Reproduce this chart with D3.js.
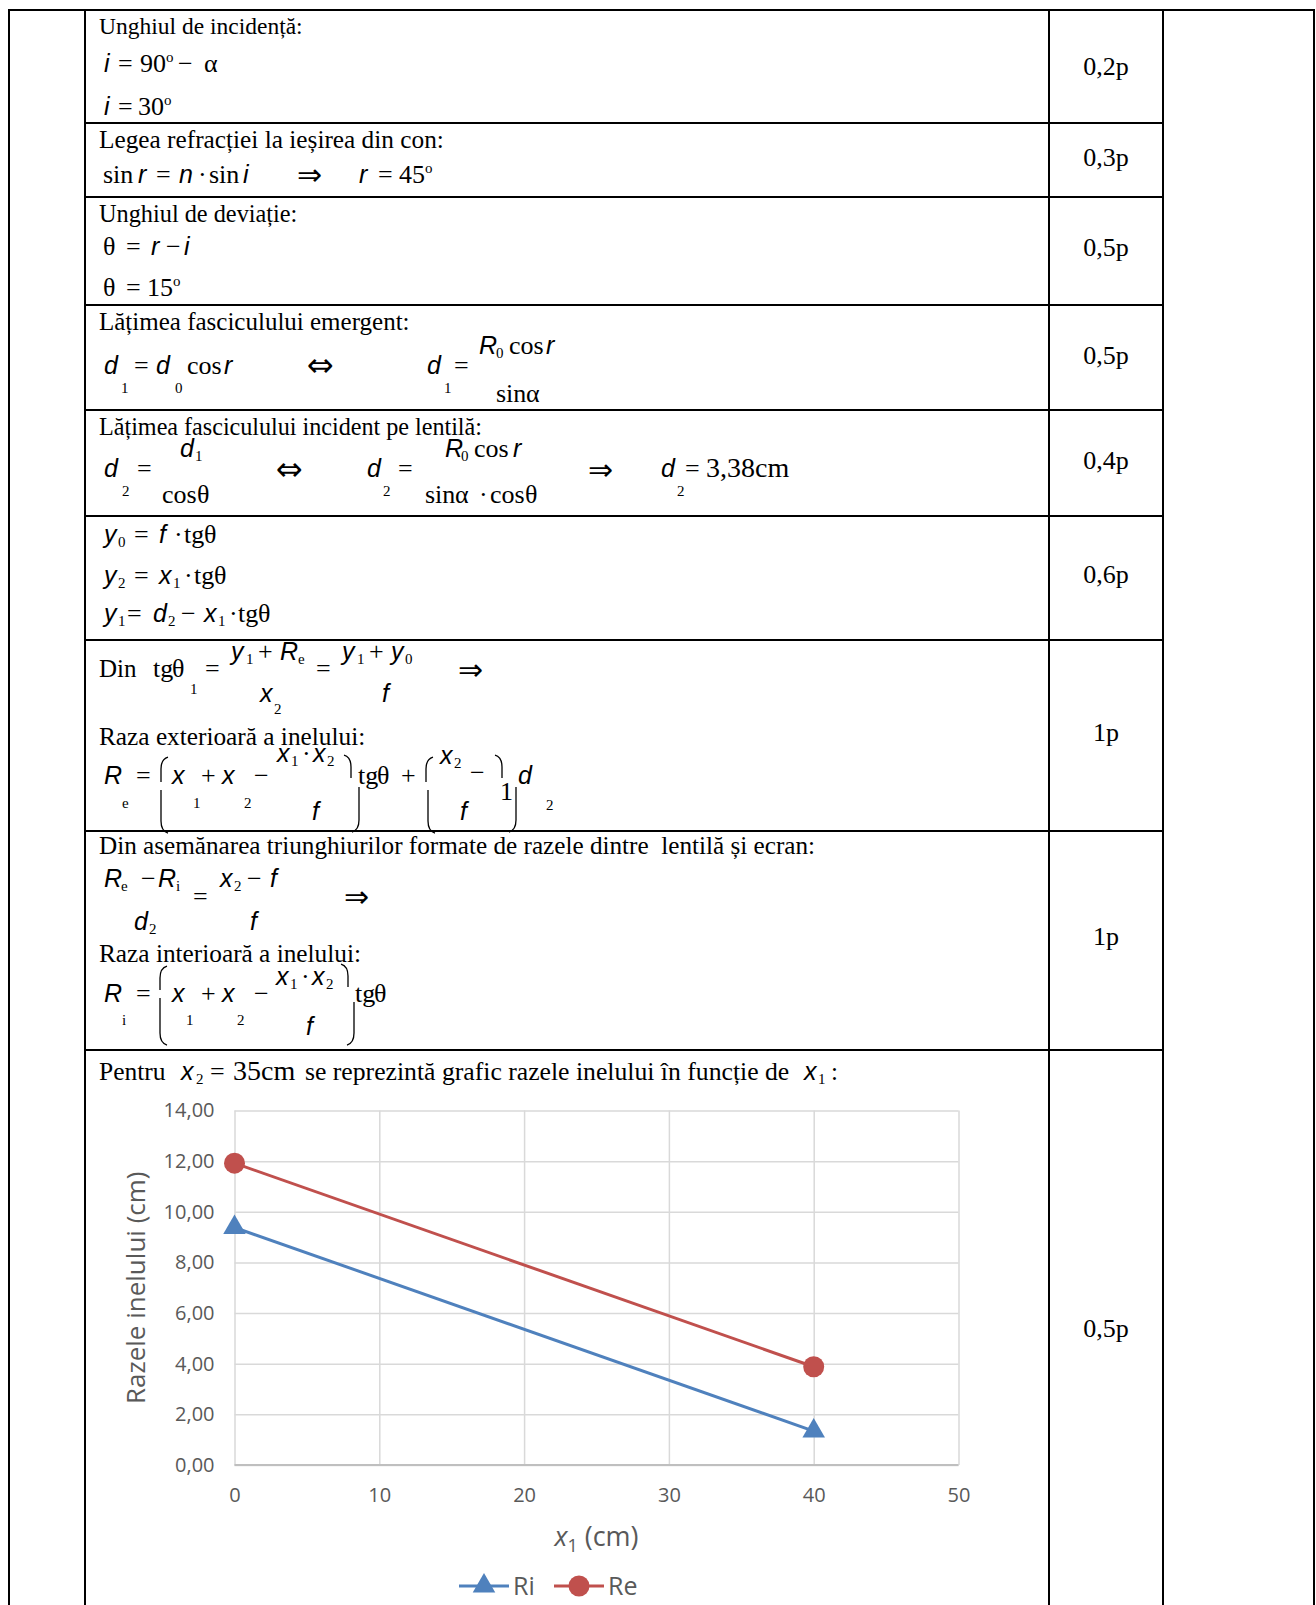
<!DOCTYPE html>
<html><head><meta charset="utf-8">
<script src="https://cdn.jsdelivr.net/npm/d3@7"></script>
<style>
body{margin:0;background:#fff;}
svg text{white-space:pre;}
.t{font-family:"Liberation Serif","Times New Roman",serif;font-size:25px;fill:#000}
.f{font-family:"Liberation Serif","Times New Roman",serif;font-size:26px;fill:#000}
.v{font-family:"Liberation Sans",Arial,sans-serif;font-style:italic;font-size:25px;fill:#000}
.s{font-family:"Liberation Serif","Times New Roman",serif;font-size:15px;fill:#000}
.g{font-family:"Liberation Serif","Times New Roman",serif;font-size:26px;fill:#000}
.a{font-family:"DejaVu Sans",sans-serif;font-size:30px;fill:#000}
.p{font-family:"Liberation Serif","Times New Roman",serif;font-size:26px;fill:#000}
.ax{font-family:"Open Sans",sans-serif;fill:#595959}
</style></head><body>
<svg id="c" width="1316" height="1605"></svg>
<script>
// ---- chart data ----
const xValues = [0, 40];
const riValues = [9.38, 1.34];
const reValues = [11.92, 3.88];
const xTicks = [0, 10, 20, 30, 40, 50];
const yTicks = [0, 2, 4, 6, 8, 10, 12, 14];
const seriesNames = ["Ri", "Re"];
const seriesColors = ["#4F81BD", "#C0504D"];
const pointLabels = ["0,2p", "0,3p", "0,5p", "0,5p", "0,4p", "0,6p", "1p", "1p", "0,5p"];

const svg = d3.select("#c");
svg.append("rect").attr("width",1316).attr("height",1605).attr("fill","#fff");

// ---- table grid ----
const colX = [9, 85, 1049, 1163, 1314];
const rowY = [123, 197, 305, 410, 516, 640, 831, 1050];
const grid = svg.append("g").attr("stroke","#000").attr("stroke-width",2);
grid.append("line").attr("x1",8).attr("x2",1315).attr("y1",10).attr("y2",10);
colX.forEach(x => grid.append("line").attr("x1",x).attr("x2",x).attr("y1",9).attr("y2",1605));
rowY.forEach(y => grid.append("line").attr("x1",85).attr("x2",1163).attr("y1",y).attr("y2",y));

// ---- points column ----
const pointBase = [75, 166, 256, 364, 469, 583, 741, 945, 1337];
svg.selectAll("text.pt").data(pointLabels).enter().append("text")
  .attr("class","p").attr("x",1106).attr("y",(d,i)=>pointBase[i])
  .attr("text-anchor","middle").text(d=>d);

// ---- helpers for formula text ----
function T(x,y,c,s,fs){ const t=svg.append("text").attr("class",c).attr("x",x).attr("y",y).text(s); if(fs) t.style("font-size",fs+"px"); return t; }
function deg(x,y,num){
  const t = svg.append("text").attr("class","f").attr("x",x).attr("y",y);
  t.append("tspan").text(num);
  t.append("tspan").attr("dy",-10).style("font-size","15px").text("o");
}
const pg = svg.append("g").attr("fill","none").attr("stroke","#000").attr("stroke-width",1.3);
function pTop(xs,y1,y2,dir){ pg.append("path").attr("d",`M${xs+7*dir},${y1} Q${xs},${y1+2} ${xs},${y1+12} L${xs},${y2}`); }
function pBot(xs,y1,y2,dir){ pg.append("path").attr("d",`M${xs},${y1} L${xs},${y2-12} Q${xs},${y2-2} ${xs+7*dir},${y2}`); }

// Row 1
T(99,34,"t","Unghiul de incidență:",23.5);
T(104,72,"v","i"); T(118,72,"f","="); deg(140,72,"90"); T(178,72,"f","−"); T(204,72,"g","α");
T(104,115,"v","i"); T(118,115,"f","="); deg(138,115,"30");
// Row 2
T(99,148,"t","Legea refracției la ieșirea din con:",25.3);
T(103,183,"f","sin"); T(138,183,"v","r"); T(156,183,"f","="); T(179,183,"v","n"); T(198,183,"f","·");
T(209,183,"f","sin"); T(243,183,"v","i"); T(297,185,"a","⇒"); T(359,183,"v","r"); T(378,183,"f","="); deg(399,183,"45");
// Row 3
T(99,222,"t","Unghiul de deviație:",24.3);
T(103,255,"g","θ"); T(126,255,"f","="); T(151,255,"v","r"); T(166,255,"f","−"); T(184,255,"v","i");
T(103,296,"g","θ"); T(126,296,"f","="); deg(147,296,"15");
// Row 4
T(99,330,"t","Lățimea fasciculului emergent:",25);
T(104,374,"v","d"); T(121,393,"s","1"); T(134,374,"f","="); T(156,374,"v","d"); T(175,393,"s","0");
T(187,374,"f","cos"); T(224,374,"v","r"); T(307,376,"a","⇔",32);
T(427,374,"v","d"); T(444,393,"s","1"); T(454,374,"f","=");
T(479,354,"v","R"); T(496,358,"s","0"); T(509,354,"f","cos"); T(546,354,"v","r");
T(496,402,"f","sin"); T(526,402,"g","α");
// Row 5
T(99,435,"t","Lățimea fasciculului incident pe lentilă:",24.2).attr("textLength",383);
T(104,477,"v","d"); T(122,496,"s","2"); T(137,477,"f","=");
T(180,457,"v","d"); T(195,461,"s","1"); T(162,503,"f","cos"); T(197,503,"g","θ");
T(276,480,"a","⇔",32);
T(367,477,"v","d"); T(383,496,"s","2"); T(398,477,"f","=");
T(445,457,"v","R"); T(461,461,"s","0"); T(474,457,"f","cos"); T(513,457,"v","r");
T(425,503,"f","sin"); T(455,503,"g","α"); T(479,503,"f","·"); T(490,503,"f","cos"); T(525,503,"g","θ");
T(588,480,"a","⇒");
T(661,477,"v","d"); T(677,496,"s","2"); T(685,477,"f","="); T(706,477,"f","3,38cm",28);
// Row 6
T(104,543,"v","y"); T(118,547,"s","0"); T(134,543,"f","="); T(159,543,"v","f"); T(174,543,"f","·"); T(184,543,"f","tg"); T(204,543,"g","θ");
T(104,584,"v","y"); T(118,588,"s","2"); T(134,584,"f","="); T(159,584,"v","x"); T(173,588,"s","1"); T(184,584,"f","·"); T(194,584,"f","tg"); T(214,584,"g","θ");
T(104,622,"v","y"); T(118,626,"s","1"); T(127,622,"f","="); T(153,622,"v","d"); T(168,626,"s","2"); T(181,622,"f","−");
T(204,622,"v","x"); T(218,626,"s","1"); T(229,622,"f","·"); T(238,622,"f","tg"); T(258,622,"g","θ");
// Row 7
T(99,677,"t","Din",25); T(153,677,"f","tg"); T(172,677,"g","θ"); T(190,694,"s","1"); T(205,677,"f","=");
T(231,660,"v","y"); T(246,664,"s","1"); T(258,660,"f","+"); T(280,660,"v","R"); T(298,664,"s","e");
T(260,702,"v","x"); T(274,714,"s","2");
T(316,677,"f","=");
T(342,660,"v","y"); T(357,664,"s","1"); T(369,660,"f","+"); T(391,660,"v","y"); T(405,664,"s","0");
T(382,702,"v","f");
T(458,680,"a","⇒");
T(99,745,"t","Raza exterioară a inelului:",25.3);
T(104,784,"v","R"); T(122,808,"s","e"); T(136,784,"f","=");
pTop(161,757,782,1); pBot(161,790,833,1);
T(172,784,"v","x"); T(193,808,"s","1"); T(201,784,"f","+"); T(222,784,"v","x"); T(244,808,"s","2"); T(254,784,"f","−");
T(277,762,"v","x"); T(291,766,"s","1"); T(302,762,"f","·"); T(313,762,"v","x"); T(327,766,"s","2");
T(312,820,"v","f");
pTop(351,755,778,-1); pBot(359,787,832,-1);
T(358,784,"f","tg"); T(377,784,"g","θ"); T(401,784,"f","+");
pTop(426,757,782,1); pBot(428,790,833,1);
T(440,764,"v","x"); T(454,768,"s","2"); T(470,781,"f","−"); T(500,800,"f","1");
T(460,820,"v","f");
pTop(502,755,778,-1); pBot(516,787,832,-1);
T(518,784,"v","d"); T(546,810,"s","2");
// Row 8
T(99,854,"t","Din asemănarea triunghiurilor formate de razele dintre  lentilă și ecran:",25.2);
T(104,887,"v","R"); T(121,891,"s","e"); T(141,887,"f","−"); T(158,887,"v","R"); T(176,891,"s","i");
T(193,905,"f","=");
T(220,887,"v","x"); T(234,891,"s","2"); T(247,887,"f","−"); T(270,887,"v","f");
T(134,930,"v","d"); T(149,934,"s","2"); T(250,930,"v","f");
T(344,907,"a","⇒");
T(99,962,"t","Raza interioară a inelului:",25.3);
T(104,1002,"v","R"); T(122,1025,"s","i"); T(136,1002,"f","=");
pTop(160,966,990,1); pBot(160,998,1045,1);
T(172,1002,"v","x"); T(186,1025,"s","1"); T(201,1002,"f","+"); T(222,1002,"v","x"); T(237,1025,"s","2"); T(254,1002,"f","−");
T(276,985,"v","x"); T(290,989,"s","1"); T(301,985,"f","·"); T(312,985,"v","x"); T(326,989,"s","2");
T(306,1035,"v","f");
pTop(348,964,987,-1); pBot(354,1002,1045,-1);
T(355,1002,"f","tg"); T(374,1002,"g","θ");
// Row 9 heading
T(99,1080,"t","Pentru",25.5); T(181,1080,"v","x"); T(196,1084,"s","2"); T(210,1080,"f","="); T(233,1080,"f","35cm",28);
T(305,1080,"t","se reprezintă grafic razele inelului în funcție de",25.7); T(804,1080,"v","x"); T(818,1084,"s","1"); T(831,1080,"t",":");

// ---- chart ----
const xS = d3.scaleLinear().domain([0,50]).range([234.5,958.5]);
const yS = d3.scaleLinear().domain([0,14]).range([1465,1110.5]);
const plotW = xS(50)-xS(0), plotH = yS(0)-yS(14);
const fmtY = d => d3.format(".2f")(d).replace(".", ",");

const gx = svg.append("g").attr("transform",`translate(0,${yS(0)})`)
  .call(d3.axisBottom(xS).tickValues(xTicks).tickSize(-plotH).tickPadding(23).tickFormat(d3.format("d")));
gx.select(".domain").remove();
gx.selectAll("line").attr("stroke","#d9d9d9").attr("stroke-width",1.5);
gx.selectAll("text").attr("class","ax").style("font-size","20px");

const gy = svg.append("g").attr("transform",`translate(${xS(0)},0)`)
  .call(d3.axisLeft(yS).tickValues(yTicks).tickSize(-plotW).tickPadding(20).tickFormat(fmtY));
gy.select(".domain").remove();
gy.selectAll("line").attr("stroke","#d9d9d9").attr("stroke-width",1.5);
gy.selectAll("text").attr("class","ax").style("font-size","20px");

svg.append("line").attr("x1",xS(0)).attr("x2",xS(50)).attr("y1",yS(0)).attr("y2",yS(0))
  .attr("stroke","#bfbfbf").attr("stroke-width",2);

// axis titles
const xt = svg.append("text").attr("class","ax").attr("x",(xS(0)+xS(50))/2).attr("y",1546)
  .attr("text-anchor","middle").style("font-size","27px");
xt.append("tspan").style("font-style","italic").text("x");
xt.append("tspan").attr("dy",6).style("font-size","18px").text("1");
xt.append("tspan").attr("dy",-6).text(" (cm)");
svg.append("text").attr("class","ax").attr("transform",`translate(145,${(yS(0)+yS(14))/2}) rotate(-90)`)
  .attr("text-anchor","middle").style("font-size","26px").text("Razele inelului (cm)");

const series = seriesNames.map((n,i)=>({name:n, color:seriesColors[i],
  values: (i===0?riValues:reValues).map((v,j)=>({x:xValues[j], v}))}));
const line = d3.line().x(d=>xS(d.x)).y(d=>yS(d.v));
const triPath = d3.symbol(d3.symbolTriangle, 220)();
series.forEach((s,i)=>{
  svg.append("path").attr("d",line(s.values)).attr("fill","none").attr("stroke",s.color).attr("stroke-width",3);
  s.values.forEach(p=>{
    if(i===0) svg.append("path").attr("d",triPath).attr("transform",`translate(${xS(p.x)},${yS(p.v)})`).attr("fill",s.color);
    else svg.append("circle").attr("cx",xS(p.x)).attr("cy",yS(p.v)).attr("r",10.5).attr("fill",s.color);
  });
});

// legend
const legX = [459, 554];
series.forEach((s,i)=>{
  const x0 = legX[i], ly = 1586;
  svg.append("line").attr("x1",x0).attr("x2",x0+50).attr("y1",ly).attr("y2",ly).attr("stroke",s.color).attr("stroke-width",3);
  if(i===0) svg.append("path").attr("d",triPath).attr("transform",`translate(${x0+25},${ly})`).attr("fill",s.color);
  else svg.append("circle").attr("cx",x0+25).attr("cy",ly).attr("r",10.5).attr("fill",s.color);
  svg.append("text").attr("class","ax").attr("x",x0+54).attr("y",ly+9).style("font-size","25px").text(s.name);
});
</script>
</body></html>
